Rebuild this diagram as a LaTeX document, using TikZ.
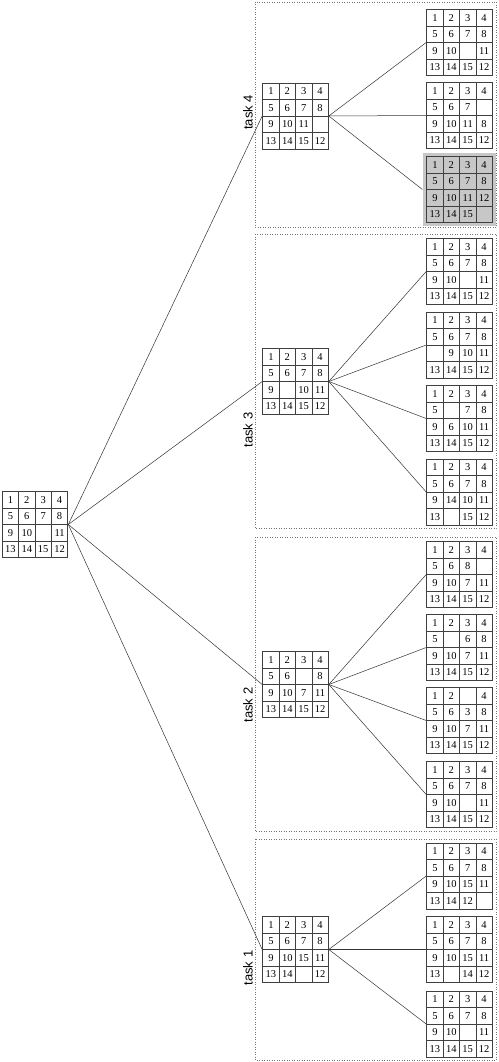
\documentclass[tikz,border=0pt]{standalone}
\usepackage{fontspec}
\setmainfont{Liberation Serif}
\newfontfamily\labelfont{Liberation Sans}
\usetikzlibrary{matrix}
\usetikzlibrary{calc}

\begin{document}
\begin{tikzpicture}[x=1pt,y=-1pt,
  cell/.style={draw=black!75,line width=.6pt,minimum size=16.4pt,inner sep=0pt,anchor=center,
    text height=7pt,text depth=0pt,font=\fontsize{10.5}{10.5}\selectfont},
  board/.style={matrix of nodes,nodes in empty cells,inner sep=0pt,column sep=-.6pt,row sep=-.6pt,nodes={cell}},
  goal/.style={board,fill=black!22,inner sep=3.8pt},
  move/.style={draw=black!80,line width=.5pt},
  frame/.style={draw=black!55,dotted,line width=.5pt},
  tasklabel/.style={rotate=90,font=\labelfont\fontsize{13}{13}\selectfont}]
\useasboundingbox (0,0) rectangle (498,1062);
% task frames
\draw [frame] (255,2) rectangle (496,227);
\draw [frame] (255,234) rectangle (496,528);
\draw [frame] (255,537) rectangle (496,831);
\draw [frame] (255,839) rectangle (496,1060);
\node [tasklabel] (L4) at (248,112.5) {task 4};
\node [tasklabel] (L3) at (248,430) {task 3};
\node [tasklabel] (L2) at (248,705) {task 2};
\node [tasklabel] (L1) at (248,968) {task 1};
% root
\matrix [board] (R) at (35,524.5) {1 & 2 & 3 & 4\\ 5 & 6 & 7 & 8\\ 9 & 10 & & 11\\ 13 & 14 & 15 & 12\\};
% task 4
\matrix [board] (T4) at (295.5,116) {1 & 2 & 3 & 4\\ 5 & 6 & 7 & 8\\ 9 & 10 & 11 & \\ 13 & 14 & 15 & 12\\};
\matrix [board] (T4a) at (459.5,42.5) {1 & 2 & 3 & 4\\ 5 & 6 & 7 & 8\\ 9 & 10 & & 11\\ 13 & 14 & 15 & 12\\};
\matrix [board] (T4b) at (459.5,115.5) {1 & 2 & 3 & 4\\ 5 & 6 & 7 & \\ 9 & 10 & 11 & 8\\ 13 & 14 & 15 & 12\\};
\matrix [goal] (T4c) at (459.5,189.5) {1 & 2 & 3 & 4\\ 5 & 6 & 7 & 8\\ 9 & 10 & 11 & 12\\ 13 & 14 & 15 & \\};
% task 3
\matrix [board] (T3) at (295.5,381.5) {1 & 2 & 3 & 4\\ 5 & 6 & 7 & 8\\ 9 & & 10 & 11\\ 13 & 14 & 15 & 12\\};
\matrix [board] (T3a) at (459.5,271.5) {1 & 2 & 3 & 4\\ 5 & 6 & 7 & 8\\ 9 & 10 & & 11\\ 13 & 14 & 15 & 12\\};
\matrix [board] (T3b) at (459.5,345) {1 & 2 & 3 & 4\\ 5 & 6 & 7 & 8\\ & 9 & 10 & 11\\ 13 & 14 & 15 & 12\\};
\matrix [board] (T3c) at (459.5,418.5) {1 & 2 & 3 & 4\\ 5 & & 7 & 8\\ 9 & 6 & 10 & 11\\ 13 & 14 & 15 & 12\\};
\matrix [board] (T3d) at (459.5,492) {1 & 2 & 3 & 4\\ 5 & 6 & 7 & 8\\ 9 & 14 & 10 & 11\\ 13 & & 15 & 12\\};
% task 2
\matrix [board] (T2) at (295.5,684.5) {1 & 2 & 3 & 4\\ 5 & 6 & & 8\\ 9 & 10 & 7 & 11\\ 13 & 14 & 15 & 12\\};
\matrix [board] (T2a) at (459.5,574.5) {1 & 2 & 3 & 4\\ 5 & 6 & 8 & \\ 9 & 10 & 7 & 11\\ 13 & 14 & 15 & 12\\};
\matrix [board] (T2b) at (459.5,647.5) {1 & 2 & 3 & 4\\ 5 & & 6 & 8\\ 9 & 10 & 7 & 11\\ 13 & 14 & 15 & 12\\};
\matrix [board] (T2c) at (459.5,720.5) {1 & 2 & & 4\\ 5 & 6 & 3 & 8\\ 9 & 10 & 7 & 11\\ 13 & 14 & 15 & 12\\};
\matrix [board] (T2d) at (459.5,794.5) {1 & 2 & 3 & 4\\ 5 & 6 & 7 & 8\\ 9 & 10 & & 11\\ 13 & 14 & 15 & 12\\};
% task 1
\matrix [board] (T1) at (295.5,949.5) {1 & 2 & 3 & 4\\ 5 & 6 & 7 & 8\\ 9 & 10 & 15 & 11\\ 13 & 14 & & 12\\};
\matrix [board] (T1a) at (459.5,876) {1 & 2 & 3 & 4\\ 5 & 6 & 7 & 8\\ 9 & 10 & 15 & 11\\ 13 & 14 & 12 & \\};
\matrix [board] (T1b) at (459.5,949.5) {1 & 2 & 3 & 4\\ 5 & 6 & 7 & 8\\ 9 & 10 & 15 & 11\\ 13 & & 14 & 12\\};
\matrix [board] (T1c) at (459.5,1024) {1 & 2 & 3 & 4\\ 5 & 6 & 7 & 8\\ 9 & 10 & & 11\\ 13 & 14 & 15 & 12\\};
% moves
\foreach \t in {1,2,3,4} \draw [move] (R.east) -- (T\t.west);
\foreach \c in {a,b,c} \draw [move] (T4.east) -- (T4\c.west);
\foreach \c in {a,b,c,d} \draw [move] (T3.east) -- (T3\c.west);
\foreach \c in {a,b,c,d} \draw [move] (T2.east) -- (T2\c.west);
\foreach \c in {a,b,c} \draw [move] (T1.east) -- (T1\c.west);
\end{tikzpicture}
\end{document}
